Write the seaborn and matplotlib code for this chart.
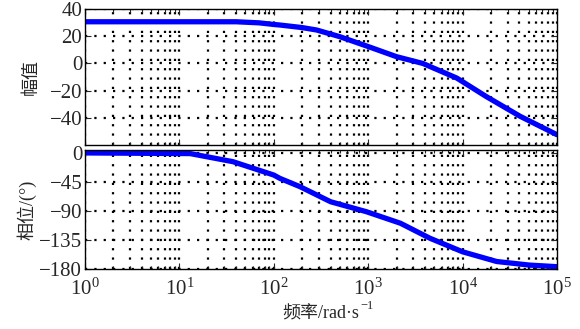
import numpy as np
import pandas as pd
import matplotlib
matplotlib.use("Agg")
import matplotlib.pyplot as plt
import seaborn as sns
from matplotlib.ticker import LogLocator, NullFormatter

# Courbe d'amplitude (dB)
freq_mag = [1, 40, 70, 100, 116, 200, 285, 500, 1000, 2000, 3800, 8700, 17800, 40700, 100000]
mag_db = [30.8, 30.8, 30.0, 28.8, 28.4, 26.5, 24.7, 19.8, 12.5, 5.0, 0.0, -10.8, -24.4, -39.0, -52.6]

# Courbe de phase (degrés)
freq_ph = [1, 13, 37, 100, 116, 190, 400, 960, 2200, 4500, 10000, 23000, 51000, 100000]
phase_deg = [-0.5, -1.5, -14, -34.6, -39.7, -52.6, -75.8, -91.2, -109, -132, -153, -168, -173.5, -176]

mag_ticks = [40, 20, 0, -20, -40]
phase_ticks = [0, -45, -90, -135, -180]

sns.set_style("ticks")
plt.rcParams["font.family"] = ["Liberation Serif", "Noto Sans CJK SC", "DejaVu Sans"]
plt.rcParams["mathtext.fontset"] = "stix"
plt.rcParams["axes.unicode_minus"] = True

df_mag = pd.DataFrame({"f": freq_mag, "v": mag_db})
df_ph = pd.DataFrame({"f": freq_ph, "v": phase_deg})

fig = plt.figure(figsize=(5.8, 3.29), dpi=100)
ax1 = fig.add_axes([0.1466, 0.5602, 0.8136, 0.4115])
ax2 = fig.add_axes([0.1466, 0.1815, 0.8136, 0.3625])

grid_kw = dict(color="black", linestyle=(0, (1.0, 3.2)), linewidth=1.6)

for ax, df in [(ax1, df_mag), (ax2, df_ph)]:
    sns.lineplot(data=df, x="f", y="v", ax=ax, color="#0000ff", linewidth=3.8)
    ax.set_xscale("log")
    ax.set_xlim(1, 1e5)
    ax.xaxis.set_major_locator(LogLocator(base=10, numticks=10))
    ax.xaxis.set_minor_locator(LogLocator(base=10, subs=np.arange(2, 10), numticks=20))
    ax.xaxis.set_minor_formatter(NullFormatter())
    ax.grid(True, which="major", axis="both", **grid_kw)
    ax.grid(True, which="minor", axis="x", **grid_kw)
    ax.tick_params(which="both", direction="in", top=True, right=True, labelsize=15, width=0.8, pad=2)
    ax.tick_params(which="major", length=4)
    ax.tick_params(which="minor", length=2.5)
    for s in ax.spines.values():
        s.set_linewidth(1.0)
        s.set_color("black")
    ax.set_xlabel("")
    ax.set_axisbelow(True)

ax1.set_ylim(-60, 40)
ax1.set_yticks(mag_ticks)
ax1.tick_params(labelbottom=False)
ax1.set_ylabel("幅值", fontsize=13, labelpad=7)

ax2.set_ylim(-180, 4)
ax2.set_yticks(phase_ticks)
ax2.set_ylabel("相位/(°)", fontsize=13, labelpad=2)
ax2.set_xlabel("频率/rad·s", fontsize=13, labelpad=4)
ax2.tick_params(axis="x", pad=7)

# exposant de l'unité, placé juste après le label
ax2.annotate("−1", xy=(1.0, 1.0), xycoords=ax2.xaxis.label, xytext=(0.5, 4),
             textcoords="offset points", ha="left", va="top", fontsize=9)

fig.savefig("out.png", dpi=100)
